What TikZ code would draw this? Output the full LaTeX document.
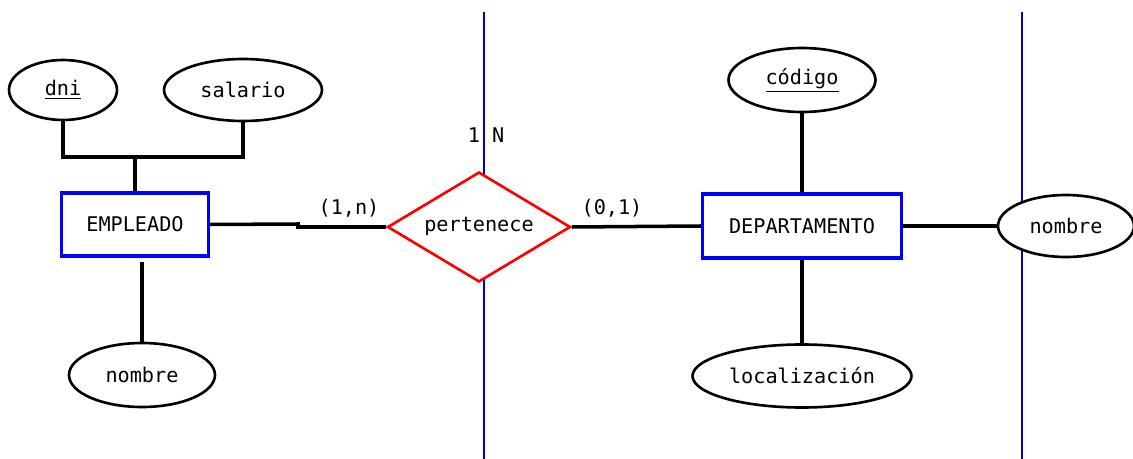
\documentclass[tikz,border=0pt]{standalone}
\usepackage{fontspec}
\setmainfont{DejaVu Sans Mono}
\usetikzlibrary{shapes.geometric}

\begin{document}
\begin{tikzpicture}[x=0.02cm,y=-0.02cm,font=\fontsize{11.5}{13}\selectfont,
  attr/.style={ellipse,draw,line width=1.5pt,fill=white,inner sep=0pt},
  entity/.style={rectangle,draw=blue,line width=2pt,fill=white,inner sep=0pt},
  rel/.style={diamond,aspect=1.66,draw=red,line width=1.5pt,fill=white,inner sep=0pt},
  link/.style={line width=2pt},
  guide/.style={blue!80!black,line width=0.9pt}]
\useasboundingbox (0,0) rectangle (1133,459);

\draw[guide] (484,12) -- (484,459);
\draw[guide] (1022,12) -- (1022,459);

\node[attr,minimum width=2.16cm,minimum height=1.2cm] (dni) at (63,90) {\underline{dni}};
\node[attr,minimum width=3.16cm,minimum height=1.24cm] (sal) at (243,90) {salario};
\node[entity,minimum width=2.94cm,minimum height=1.26cm] (emp) at (135,224.5) {EMPLEADO};
\node[attr,minimum width=2.92cm,minimum height=1.28cm] (nom1) at (142,375) {nombre};

\node[rel,minimum width=3.66cm,minimum height=2.2cm] (pert) at (479,227) {pertenece};

\node[entity,minimum width=3.98cm,minimum height=1.28cm] (dep) at (802,226) {DEPARTAMENTO};
\node[attr,minimum width=2.94cm,minimum height=1.28cm] (cod) at (802,80) {\underline{código}};
\node[attr,minimum width=4.38cm,minimum height=1.26cm] (loc) at (802,376) {localización};

\coordinate (j1) at (135,157);
\coordinate (j2) at (142,262);
\coordinate (j3) at (298,224);

\draw[link] (dni.south) |- (j1) -| (sal.south);
\draw[link] (j1) -- (emp.north);
\draw[link] (j2) -- (nom1.north);
\draw[link] (emp.east) -- (j3) |- (pert.west);
\draw[link] (pert.east) -- (dep.west);
\draw[link] (cod.south) -- (dep.north);
\draw[link] (dep.south) -- (loc.north);

\node[attr,minimum width=2.72cm,minimum height=1.24cm] (nom2) at (1066,226) {nombre};
\draw[link] (dep.east) -- (nom2.west);

\node (card1) at (349,208) {(1,n)};
\node (card2) at (612,208) {(0,1)};
\node (tipo) at (486,135) {1 N};
\end{tikzpicture}
\end{document}
